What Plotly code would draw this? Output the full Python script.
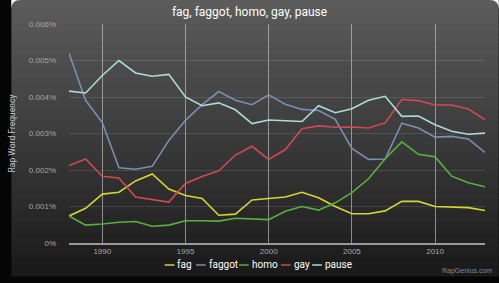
import plotly.graph_objects as go

years = list(range(1988, 2014))

fag = [0.74, 0.95, 1.34, 1.39, 1.70, 1.89, 1.48, 1.30, 1.22, 0.76, 0.79, 1.18, 1.22, 1.26,
       1.39, 1.24, 1.00, 0.80, 0.80, 0.88, 1.14, 1.14, 1.00, 0.98, 0.97, 0.89]
faggot = [5.20, 3.91, 3.30, 2.06, 2.02, 2.10, 2.81, 3.36, 3.79, 4.15, 3.91, 3.79, 4.06, 3.80,
          3.66, 3.63, 3.39, 2.59, 2.29, 2.30, 3.28, 3.15, 2.90, 2.92, 2.85, 2.48]
homo = [0.74, 0.49, 0.52, 0.57, 0.59, 0.46, 0.49, 0.61, 0.61, 0.60, 0.68, 0.66, 0.64, 0.87,
        1.00, 0.90, 1.10, 1.38, 1.76, 2.31, 2.77, 2.43, 2.36, 1.83, 1.65, 1.54]
gay = [2.12, 2.30, 1.83, 1.78, 1.26, 1.18, 1.12, 1.63, 1.82, 1.98, 2.41, 2.65, 2.29, 2.56,
       3.13, 3.21, 3.17, 3.18, 3.15, 3.29, 3.93, 3.90, 3.78, 3.78, 3.67, 3.38]
pause = [4.16, 4.11, 4.59, 5.00, 4.66, 4.57, 4.62, 4.00, 3.76, 3.84, 3.65, 3.27, 3.37, 3.35,
         3.33, 3.76, 3.57, 3.68, 3.91, 4.02, 3.47, 3.48, 3.24, 3.06, 2.98, 3.01]

names = ["fag", "faggot", "homo", "gay", "pause"]
series = [fag, faggot, homo, gay, pause]
colors = ["#d4d535", "#7b8fb2", "#57b13c", "#cf4a52", "#a9ddd6"]

y_tickvals = [0, 0.001, 0.002, 0.003, 0.004, 0.005, 0.006]
y_ticktext = ["0%", "0.001%", "0.002%", "0.003%", "0.004%", "0.005%", "0.006%"]
x_tickvals = [1990, 1995, 2000, 2005, 2010]

title = "fag, faggot, homo, gay, pause"

W, H = 499, 283
ML, MR, MT, MB = 59, 14, 24, 40
PW, PH = W - ML - MR, H - MT - MB

# legend item left edges (pixels) for the manual bottom legend
legend_x = [157, 189, 233, 276, 308]
legend_y = 265


def px_x(p):
    return (p - ML) / PW


def px_y(p):
    return (H - MB - p) / PH


fig = go.Figure()
for n, s, c in zip(names, series, colors):
    fig.add_trace(go.Scatter(x=years, y=[v / 1000 for v in s], name=n, mode="lines",
                             line=dict(color=c, width=1.6), showlegend=False))

shapes = []
# background gradient panel
N = 46
top_c = (92, 92, 92)
bot_c = (26, 26, 26)
panel_bottom = 276
for i in range(N):
    y0 = panel_bottom * i / N
    y1 = panel_bottom * (i + 1) / N + 0.5
    t = i / (N - 1)
    col = tuple(int(top_c[k] + (bot_c[k] - top_c[k]) * t) for k in range(3))
    shapes.append(dict(type="rect", xref="paper", yref="paper", layer="below",
                       x0=px_x(0), x1=px_x(W), y0=px_y(y1), y1=px_y(y0),
                       fillcolor="rgb(%d,%d,%d)" % col, line=dict(width=0)))
# white rounded top corners
r = 9
for cx, sx in ((0, 1), (W, -1)):
    path = "M %f,%f L %f,%f Q %f,%f %f,%f Z" % (
        px_x(cx), px_y(0), px_x(cx + sx * r), px_y(0),
        px_x(cx), px_y(0), px_x(cx), px_y(r))
    shapes.append(dict(type="path", xref="paper", yref="paper", layer="below",
                       path=path, fillcolor="white", line=dict(width=0)))

annotations = []
for n, c, lx in zip(names, colors, legend_x):
    shapes.append(dict(type="line", xref="paper", yref="paper", layer="above",
                       x0=px_x(lx), x1=px_x(lx + 10), y0=px_y(legend_y), y1=px_y(legend_y),
                       line=dict(color=c, width=1.5)))
    annotations.append(dict(text=n, xref="paper", yref="paper", x=px_x(lx + 12), y=px_y(legend_y - 0.5),
                            showarrow=False, xanchor="left", yanchor="middle", borderpad=0,
                            font=dict(color="white", size=10, family="Roboto")))

annotations.append(
    dict(text="RapGenius.com", xref="paper", yref="paper", x=px_x(494), y=px_y(271),
         showarrow=False, font=dict(color="#8a8a8a", size=7, family="Liberation Sans, sans-serif"),
         xanchor="right", yanchor="middle"))

fig.update_layout(
    width=W, height=H,
    margin=dict(l=ML, r=MR, t=MT, b=MB, pad=0),
    paper_bgcolor="#050505",
    plot_bgcolor="rgba(0,0,0,0)",
    title=dict(text=title, x=0.5, xref="container", xanchor="center", y=1 - 12 / H, yanchor="middle",
               font=dict(color="white", size=12, family="Roboto")),
    shapes=shapes,
    annotations=annotations,
    showlegend=False,
    xaxis=dict(range=[1988, 2013], tickvals=x_tickvals, showgrid=True,
               gridcolor="rgba(210,210,210,0.6)", gridwidth=1, zeroline=False,
               showline=True, linecolor="#9a9a9a", linewidth=1.5,
               tickfont=dict(color="#a8a8a8", size=8, family="Liberation Sans, sans-serif"),
               ticks="", fixedrange=True),
    yaxis=dict(range=[0, 0.006], tickvals=y_tickvals, ticktext=y_ticktext, showgrid=True,
               gridcolor="rgba(255,255,255,0.12)", gridwidth=1, zeroline=False,
               showline=False, ticklabelstandoff=12,
               tickfont=dict(color="#a8a8a8", size=8, family="Liberation Sans, sans-serif"),
               title=dict(text="Rap Word Frequency", standoff=11,
                          font=dict(color="#c8c8c8", size=8.5, family="Roboto")),
               ticks="", fixedrange=True),
)

fig.write_html("out.html")
